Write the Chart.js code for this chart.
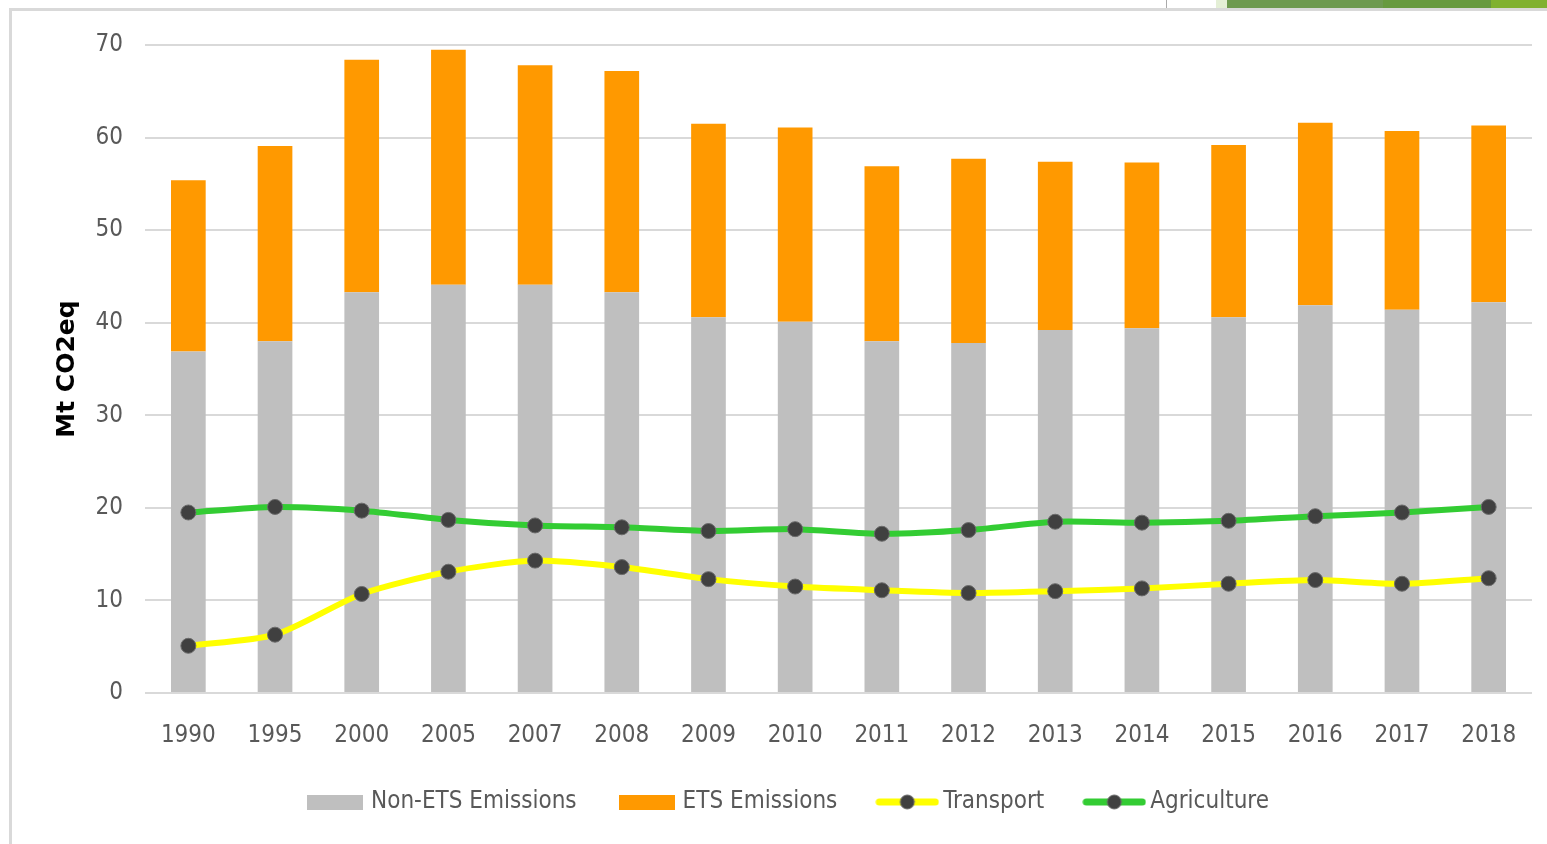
<!DOCTYPE html>
<html>
<head>
<meta charset="utf-8">
<script src="https://cdn.jsdelivr.net/npm/chart.js@4/dist/chart.umd.min.js"></script>
<style>
  html, body { margin: 0; padding: 0; background: #fff; overflow: hidden; }
  #wrap { position: relative; width: 1547px; height: 844px; }
  #frame { position: absolute; left: 9px; top: 8px; width: 1560px; height: 900px; border-left: 3px solid #d9d9d9; border-top: 3px solid #d9d9d9; }
  #deco1 { position: absolute; top: 0; left: 1216px; width: 331px; height: 8px; background: #6e9a50; }
  #deco2 { position: absolute; top: 0; left: 1383px; width: 108px; height: 8px; background: #679a3e; }
  #deco3 { position: absolute; top: 0; left: 1491px; width: 56px; height: 8px; background: #80b130; }
  #deco4 { position: absolute; top: 0; left: 1216px; width: 11px; height: 8px; background: #e4efd6; }
  #curve { position: absolute; top: 0; left: 1166px; width: 1px; height: 8px; background: #aaa; }
  canvas { position: absolute; left: 0; top: 0; }
</style>
</head>
<body>
<div id="wrap">
  <div id="frame"></div>
  <div id="deco1"></div><div id="deco2"></div><div id="deco3"></div><div id="deco4"></div><div id="curve"></div>
  <canvas id="chart" width="1547" height="844"></canvas>
</div>
<script>
// Data (Mt CO2eq)
const years = ['1990', '1995', '2000', '2005', '2007', '2008', '2009', '2010', '2011', '2012', '2013', '2014', '2015', '2016', '2017', '2018'];
const nonEts = [36.9, 38.0, 43.3, 44.1, 44.1, 43.3, 40.6, 40.1, 38.0, 37.8, 39.2, 39.4, 40.6, 41.9, 41.4, 42.2];
const ets = [18.5, 21.1, 25.1, 25.4, 23.7, 23.9, 20.9, 21.0, 18.9, 19.9, 18.2, 17.9, 18.6, 19.7, 19.3, 19.1];
const transport = [5.1, 6.3, 10.7, 13.1, 14.3, 13.6, 12.3, 11.5, 11.1, 10.8, 11.0, 11.3, 11.8, 12.2, 11.8, 12.4];
const agriculture = [19.5, 20.1, 19.7, 18.7, 18.1, 17.9, 17.5, 17.7, 17.2, 17.6, 18.5, 18.4, 18.6, 19.1, 19.5, 20.1];
const yTicks = [0, 10, 20, 30, 40, 50, 60, 70];

const FONT = "'Liberation Sans Narrow', 'DejaVu Sans Condensed', sans-serif";
const TEXT = '#595959';
const GREY = '#bfbfbf';
const ORANGE = '#ff9900';
const YELLOW = '#ffff00';
const GREEN = '#33cc33';
const MARKER = '#404040';

// legend swatches
function rectSwatch(color) {
  const c = document.createElement('canvas');
  c.width = 56; c.height = 15;
  const ctx = c.getContext('2d');
  ctx.fillStyle = color;
  ctx.fillRect(0, 0, 56, 15);
  return c;
}
function lineSwatch(color) {
  const c = document.createElement('canvas');
  c.width = 64; c.height = 18;
  const ctx = c.getContext('2d');
  ctx.strokeStyle = color;
  ctx.lineWidth = 7;
  ctx.lineCap = 'round';
  ctx.beginPath();
  ctx.moveTo(4, 9); ctx.lineTo(60, 9);
  ctx.stroke();
  ctx.fillStyle = MARKER;
  ctx.strokeStyle = '#6b6b6b';
  ctx.lineWidth = 1;
  ctx.beginPath();
  ctx.arc(32, 9, 7, 0, Math.PI * 2);
  ctx.fill();
  ctx.stroke();
  return c;
}
const swatches = [rectSwatch(GREY), rectSwatch(ORANGE), lineSwatch(YELLOW), lineSwatch(GREEN)];

new Chart(document.getElementById('chart'), {
  data: {
    labels: years,
    datasets: [{
      type: 'bar',
      label: 'Non-ETS Emissions',
      data: nonEts,
      backgroundColor: GREY,
      stack: 'em',
      order: 2,
      barPercentage: 0.4,
      categoryPercentage: 1.0
    }, {
      type: 'bar',
      label: 'ETS Emissions',
      data: ets,
      backgroundColor: ORANGE,
      stack: 'em',
      order: 2,
      barPercentage: 0.4,
      categoryPercentage: 1.0
    }, {
      type: 'line',
      label: 'Transport',
      data: transport,
      borderColor: YELLOW,
      borderWidth: 6,
      tension: 0.25,
      pointRadius: 7.5,
      pointBackgroundColor: MARKER,
      pointBorderColor: '#6b6b6b',
      pointBorderWidth: 1,
      stack: 'tr',
      order: 0
    }, {
      type: 'line',
      label: 'Agriculture',
      data: agriculture,
      borderColor: GREEN,
      borderWidth: 6,
      tension: 0.25,
      pointRadius: 7.5,
      pointBackgroundColor: MARKER,
      pointBorderColor: '#6b6b6b',
      pointBorderWidth: 1,
      stack: 'ag',
      order: 1
    }]
  },
  options: {
    responsive: false,
    animation: false,
    devicePixelRatio: 1,
    layout: { padding: { left: 48, right: 15, top: 45, bottom: 20 } },
    scales: {
      x: {
        stacked: true,
        grid: { display: false },
        border: { display: false },
        ticks: { color: TEXT, font: { family: FONT, size: 24 }, padding: 20, maxRotation: 0, autoSkip: false },
        afterFit: function(scale) { scale.height = 51; }
      },
      y: {
        stacked: true,
        min: 0,
        max: 70,
        afterBuildTicks: function(scale) { scale.ticks = yTicks.map(v => ({ value: v })); },
        grid: { color: '#d9d9d9', lineWidth: 2, drawTicks: false },
        border: { display: false },
        ticks: { color: TEXT, font: { family: FONT, size: 24 }, padding: 22 },
        title: { display: true, text: 'Mt CO2eq', color: '#000', font: { family: "'DejaVu Sans', sans-serif", size: 25, weight: 'bold' }, padding: { top: 4, bottom: 0 } },
        afterFit: function(scale) { scale.width = 97; }
      }
    },
    plugins: {
      tooltip: { enabled: false },
      legend: {
        position: 'bottom',
        labels: {
          color: TEXT,
          font: { family: FONT, size: 24 },
          usePointStyle: true,
          pointStyleWidth: 48,
          boxHeight: 24,
          padding: 46,
          generateLabels: function(chart) {
            return chart.data.datasets.map((ds, i) => ({
              text: ds.label,
              pointStyle: swatches[i],
              fillStyle: 'transparent',
              strokeStyle: 'transparent',
              lineWidth: 0,
              fontColor: TEXT,
              hidden: false,
              datasetIndex: i
            }));
          }
        }
      }
    }
  }
});
</script>
</body>
</html>
